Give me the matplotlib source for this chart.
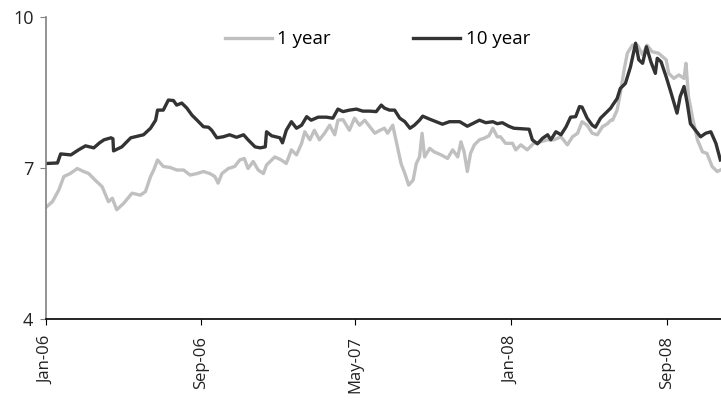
import matplotlib
matplotlib.use("Agg")
import matplotlib.pyplot as plt
import pandas as pd

# 10 year yield
dates_10y = ["2006-01-02","2006-01-19","2006-01-24","2006-02-09","2006-02-21","2006-03-04","2006-03-17",
    "2006-03-26","2006-04-02","2006-04-13","2006-04-16","2006-04-17","2006-04-30","2006-05-14","2006-06-03",
    "2006-06-14","2006-06-22","2006-06-25","2006-07-04","2006-07-12","2006-07-20","2006-07-25","2006-08-02",
    "2006-08-10","2006-08-18","2006-08-26","2006-09-05","2006-09-13","2006-09-18","2006-09-26","2006-10-06",
    "2006-10-16","2006-10-27","2006-11-07","2006-11-14","2006-11-25","2006-12-03","2006-12-11","2006-12-13",
    "2006-12-21","2007-01-03","2007-01-07","2007-01-13","2007-01-21","2007-01-29","2007-02-06","2007-02-14",
    "2007-02-21","2007-03-04","2007-03-17","2007-03-27","2007-04-04","2007-04-12","2007-04-22","2007-05-03",
    "2007-05-13","2007-05-24","2007-06-03","2007-06-11","2007-06-16","2007-06-24","2007-07-02","2007-07-10",
    "2007-07-18","2007-07-26","2007-08-02","2007-08-10","2007-08-15","2007-08-26","2007-09-05","2007-09-15",
    "2007-09-26","2007-10-12","2007-10-24","2007-11-01","2007-11-12","2007-11-22","2007-12-03","2007-12-10",
    "2007-12-18","2007-12-28","2008-01-05","2008-01-29","2008-02-03","2008-02-11","2008-02-19","2008-02-27",
    "2008-03-03","2008-03-11","2008-03-19","2008-03-27","2008-04-03","2008-04-11","2008-04-17","2008-04-21",
    "2008-04-29","2008-05-07","2008-05-12","2008-05-20","2008-05-28","2008-06-05","2008-06-08","2008-06-15",
    "2008-06-20","2008-06-28","2008-07-06","2008-07-14","2008-07-19","2008-07-25","2008-07-31","2008-08-07",
    "2008-08-14","2008-08-17","2008-08-23","2008-08-31","2008-09-07","2008-09-17","2008-09-22","2008-09-28",
    "2008-10-03","2008-10-08","2008-10-16","2008-10-24","2008-11-01","2008-11-09","2008-11-17","2008-11-24"]
values_10y = [7.09,7.10,7.28,7.26,7.36,7.44,7.40,
    7.50,7.56,7.60,7.58,7.34,7.42,7.60,7.66,
    7.79,7.95,8.15,8.15,8.35,8.34,8.25,8.29,
    8.19,8.05,7.95,7.82,7.81,7.75,7.60,7.62,
    7.66,7.61,7.66,7.56,7.42,7.40,7.42,7.72,
    7.64,7.60,7.50,7.75,7.92,7.79,7.85,8.02,
    7.95,8.01,8.01,7.99,8.17,8.12,8.15,8.17,
    8.13,8.13,8.12,8.25,8.19,8.15,8.15,7.99,
    7.92,7.79,7.85,7.95,8.03,7.97,7.92,7.87,
    7.92,7.92,7.83,7.88,7.95,7.90,7.92,7.88,
    7.90,7.83,7.79,7.77,7.56,7.48,7.59,7.66,
    7.56,7.72,7.66,7.82,8.01,8.02,8.22,8.21,
    7.99,7.85,7.81,7.99,8.09,8.19,8.25,8.38,
    8.58,8.68,9.01,9.48,9.15,9.08,9.41,9.11,
    8.88,9.18,9.11,8.81,8.52,8.09,8.42,8.62,
    8.29,7.88,7.75,7.62,7.69,7.72,7.49,7.16]

# 1 year yield
dates_1y = ["2006-01-02","2006-01-11","2006-01-21","2006-01-29","2006-02-08","2006-02-19","2006-03-01",
    "2006-03-09","2006-03-19","2006-03-30","2006-04-09","2006-04-15","2006-04-22","2006-05-03","2006-05-16",
    "2006-05-29","2006-06-06","2006-06-14","2006-06-19","2006-06-25","2006-07-04","2006-07-15","2006-07-25",
    "2006-08-05","2006-08-15","2006-08-26","2006-09-05","2006-09-15","2006-09-23","2006-09-28","2006-10-04",
    "2006-10-14","2006-10-24","2006-11-01","2006-11-08","2006-11-14","2006-11-22","2006-11-30","2006-12-08",
    "2006-12-13","2006-12-21","2006-12-26","2007-01-05","2007-01-13","2007-01-21","2007-01-29","2007-02-06",
    "2007-02-11","2007-02-19","2007-02-26","2007-03-06","2007-03-14","2007-03-22","2007-03-30","2007-04-04",
    "2007-04-12","2007-04-22","2007-04-30","2007-05-08","2007-05-16","2007-05-24","2007-06-01","2007-06-09",
    "2007-06-16","2007-06-21","2007-06-29","2007-07-04","2007-07-12","2007-07-18","2007-07-24","2007-07-31",
    "2007-08-05","2007-08-10","2007-08-14","2007-08-18","2007-08-26","2007-09-02","2007-09-13","2007-09-23",
    "2007-10-01","2007-10-09","2007-10-14","2007-10-19","2007-10-24","2007-10-29","2007-11-04","2007-11-12",
    "2007-11-19","2007-11-27","2007-12-03","2007-12-10","2007-12-15","2007-12-23","2008-01-03","2008-01-08",
    "2008-01-16","2008-01-26","2008-02-05","2008-02-16","2008-02-27","2008-03-08","2008-03-19","2008-03-29",
    "2008-04-06","2008-04-14","2008-04-21","2008-04-29","2008-05-07","2008-05-15","2008-05-23","2008-05-31",
    "2008-06-05","2008-06-08","2008-06-15","2008-06-20","2008-06-26","2008-07-01","2008-07-09","2008-07-17",
    "2008-07-25","2008-08-01","2008-08-09","2008-08-19","2008-08-31","2008-09-04","2008-09-12","2008-09-20",
    "2008-09-28","2008-10-01","2008-10-05","2008-10-11","2008-10-19","2008-10-27","2008-11-03","2008-11-11",
    "2008-11-19","2008-11-24"]
values_1y = [6.23,6.33,6.56,6.83,6.89,6.99,6.93,
    6.89,6.76,6.63,6.33,6.40,6.17,6.30,6.50,
    6.46,6.53,6.83,6.96,7.16,7.03,7.01,6.96,
    6.96,6.86,6.89,6.93,6.89,6.83,6.70,6.89,
    6.99,7.03,7.16,7.19,6.99,7.13,6.96,6.89,
    7.06,7.16,7.22,7.16,7.09,7.36,7.26,7.49,
    7.72,7.56,7.75,7.56,7.69,7.85,7.66,7.95,
    7.96,7.75,7.99,7.85,7.95,7.82,7.69,7.75,
    7.79,7.69,7.85,7.56,7.09,6.89,6.66,6.76,
    7.09,7.22,7.69,7.22,7.39,7.32,7.26,7.19,
    7.36,7.22,7.52,7.32,6.93,7.29,7.46,7.56,
    7.59,7.64,7.79,7.62,7.62,7.49,7.49,7.36,
    7.46,7.36,7.49,7.52,7.56,7.56,7.62,7.46,
    7.62,7.69,7.92,7.85,7.69,7.66,7.82,7.88,
    7.95,7.95,8.15,8.48,8.95,9.28,9.44,9.44,
    9.25,9.44,9.31,9.28,9.15,8.88,8.78,8.85,
    8.78,9.08,8.42,8.02,7.56,7.32,7.29,7.03,
    6.93,6.96]

tick_dates = ["2006-01-01","2006-09-01","2007-05-01","2008-01-01","2008-09-01"]
tick_labels = ["Jan-06","Sep-06","May-07","Jan-08","Sep-08"]
y_ticks = [4, 7, 10]

plt.rcParams['font.family'] = ['Open Sans', 'DejaVu Sans']

fig = plt.figure(figsize=(7.21, 4.01), dpi=100)
ax = fig.add_axes([0.0638, 0.2045, 0.9362, 0.7531])

ax.plot(pd.to_datetime(dates_1y), values_1y, color="#c0c0c0", lw=2.4, label="1 year")
ax.plot(pd.to_datetime(dates_10y), values_10y, color="#333333", lw=2.4, label="10 year")

ax.set_ylim(4, 10)
ax.set_yticks(y_ticks)
ax.set_xlim(pd.Timestamp("2006-01-01"), pd.Timestamp("2008-11-25"))
ax.set_xticks(pd.to_datetime(tick_dates))
ax.set_xticklabels(tick_labels, rotation=90)

for s in ["top", "right"]:
    ax.spines[s].set_visible(False)
ax.spines["left"].set_color("#808080")
ax.spines["left"].set_linewidth(1.2)
ax.spines["bottom"].set_color("#000000")
ax.spines["bottom"].set_linewidth(1.2)
ax.tick_params(axis="y", direction="out", length=4, colors="#808080", labelcolor="#222222",
               labelsize=13, pad=5)
ax.tick_params(axis="x", direction="out", length=4, colors="#000000", labelcolor="#222222",
               labelsize=12, pad=8)

ax.legend(loc="upper center", bbox_to_anchor=(0.491, 1.012), ncol=2, frameon=False,
          fontsize=13.5, handlelength=2.5, columnspacing=4.4, handletextpad=0.3)

fig.savefig("out.png", dpi=100)
